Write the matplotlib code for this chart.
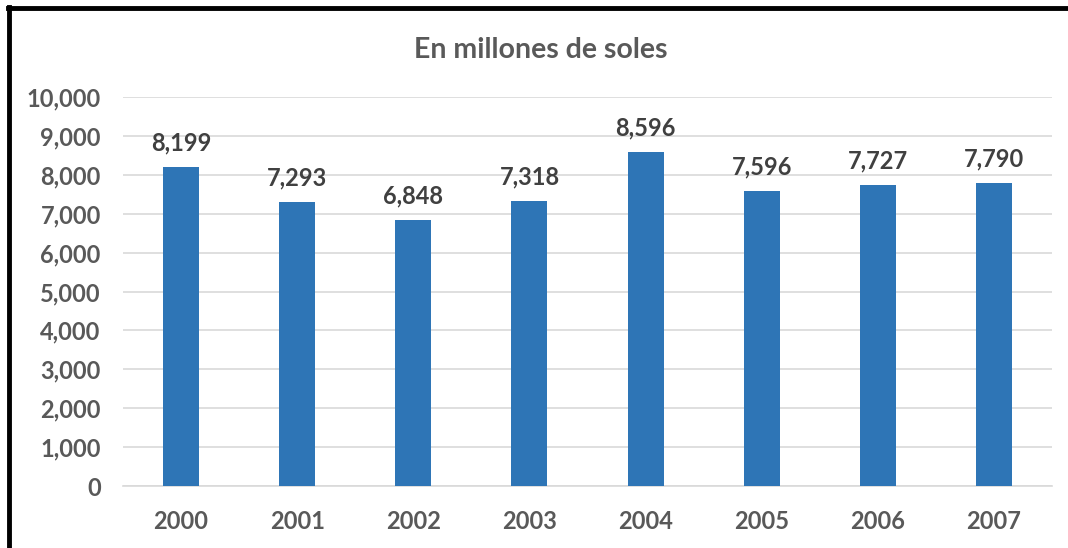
import matplotlib.pyplot as plt
from matplotlib.lines import Line2D
from matplotlib.ticker import FuncFormatter

years = ['2000', '2001', '2002', '2003', '2004', '2005', '2006', '2007']
values = [8199, 7293, 6848, 7318, 8596, 7596, 7727, 7790]
y_ticks = [0, 1000, 2000, 3000, 4000, 5000, 6000, 7000, 8000, 9000, 10000]

bar_color = '#2E75B6'
grid_color = '#D9D9D9'
text_color = '#595959'
label_color = '#404040'

plt.rcParams['font.family'] = ['Lato', 'DejaVu Sans']
plt.rcParams['font.weight'] = 'bold'

fig = plt.figure(figsize=(10.68, 5.48), dpi=100)
ax = fig.add_axes([0.1152, 0.1131, 0.8698, 0.7099])

x = range(len(years))
bars = ax.bar(x, values, width=0.31, color=bar_color, zorder=3)

# value labels above each bar
for xi, v in zip(x, values):
    ax.annotate(f'{v:,}', (xi, v), xytext=(0, 9), textcoords='offset points',
                ha='center', va='bottom', fontsize=17, fontweight='bold',
                color=label_color)

ax.set_xlim(-0.5, len(years) - 0.5)
ax.set_ylim(0, 10000)
ax.set_yticks(y_ticks)
ax.yaxis.set_major_formatter(FuncFormatter(lambda v, p: f'{int(v):,}'))
ax.set_xticks(list(x))
ax.set_xticklabels(years)

ax.grid(axis='y', color=grid_color, linewidth=1.2, zorder=0)
for s in ['top', 'right', 'left']:
    ax.spines[s].set_visible(False)
ax.spines['bottom'].set_color(grid_color)
ax.spines['bottom'].set_linewidth(1.2)

ax.tick_params(axis='both', length=0, labelsize=17, labelcolor=text_color)
ax.tick_params(axis='y', pad=16)
ax.tick_params(axis='x', pad=17)
for lab in ax.get_xticklabels() + ax.get_yticklabels():
    lab.set_fontweight('bold')

fig.text(0.506, 0.908, 'En millones de soles', ha='center', va='center',
         fontsize=20.5, fontweight='bold', color=text_color)

# dark frame along top and left edges
fig.add_artist(Line2D([0.0075, 1.0], [0.985, 0.985], color='black', linewidth=3.5,
                      transform=fig.transFigure))
fig.add_artist(Line2D([0.0080, 0.0080], [0.0, 0.988], color='black', linewidth=3.5,
                      transform=fig.transFigure))

fig.savefig('out.png', dpi=100, facecolor='white')
